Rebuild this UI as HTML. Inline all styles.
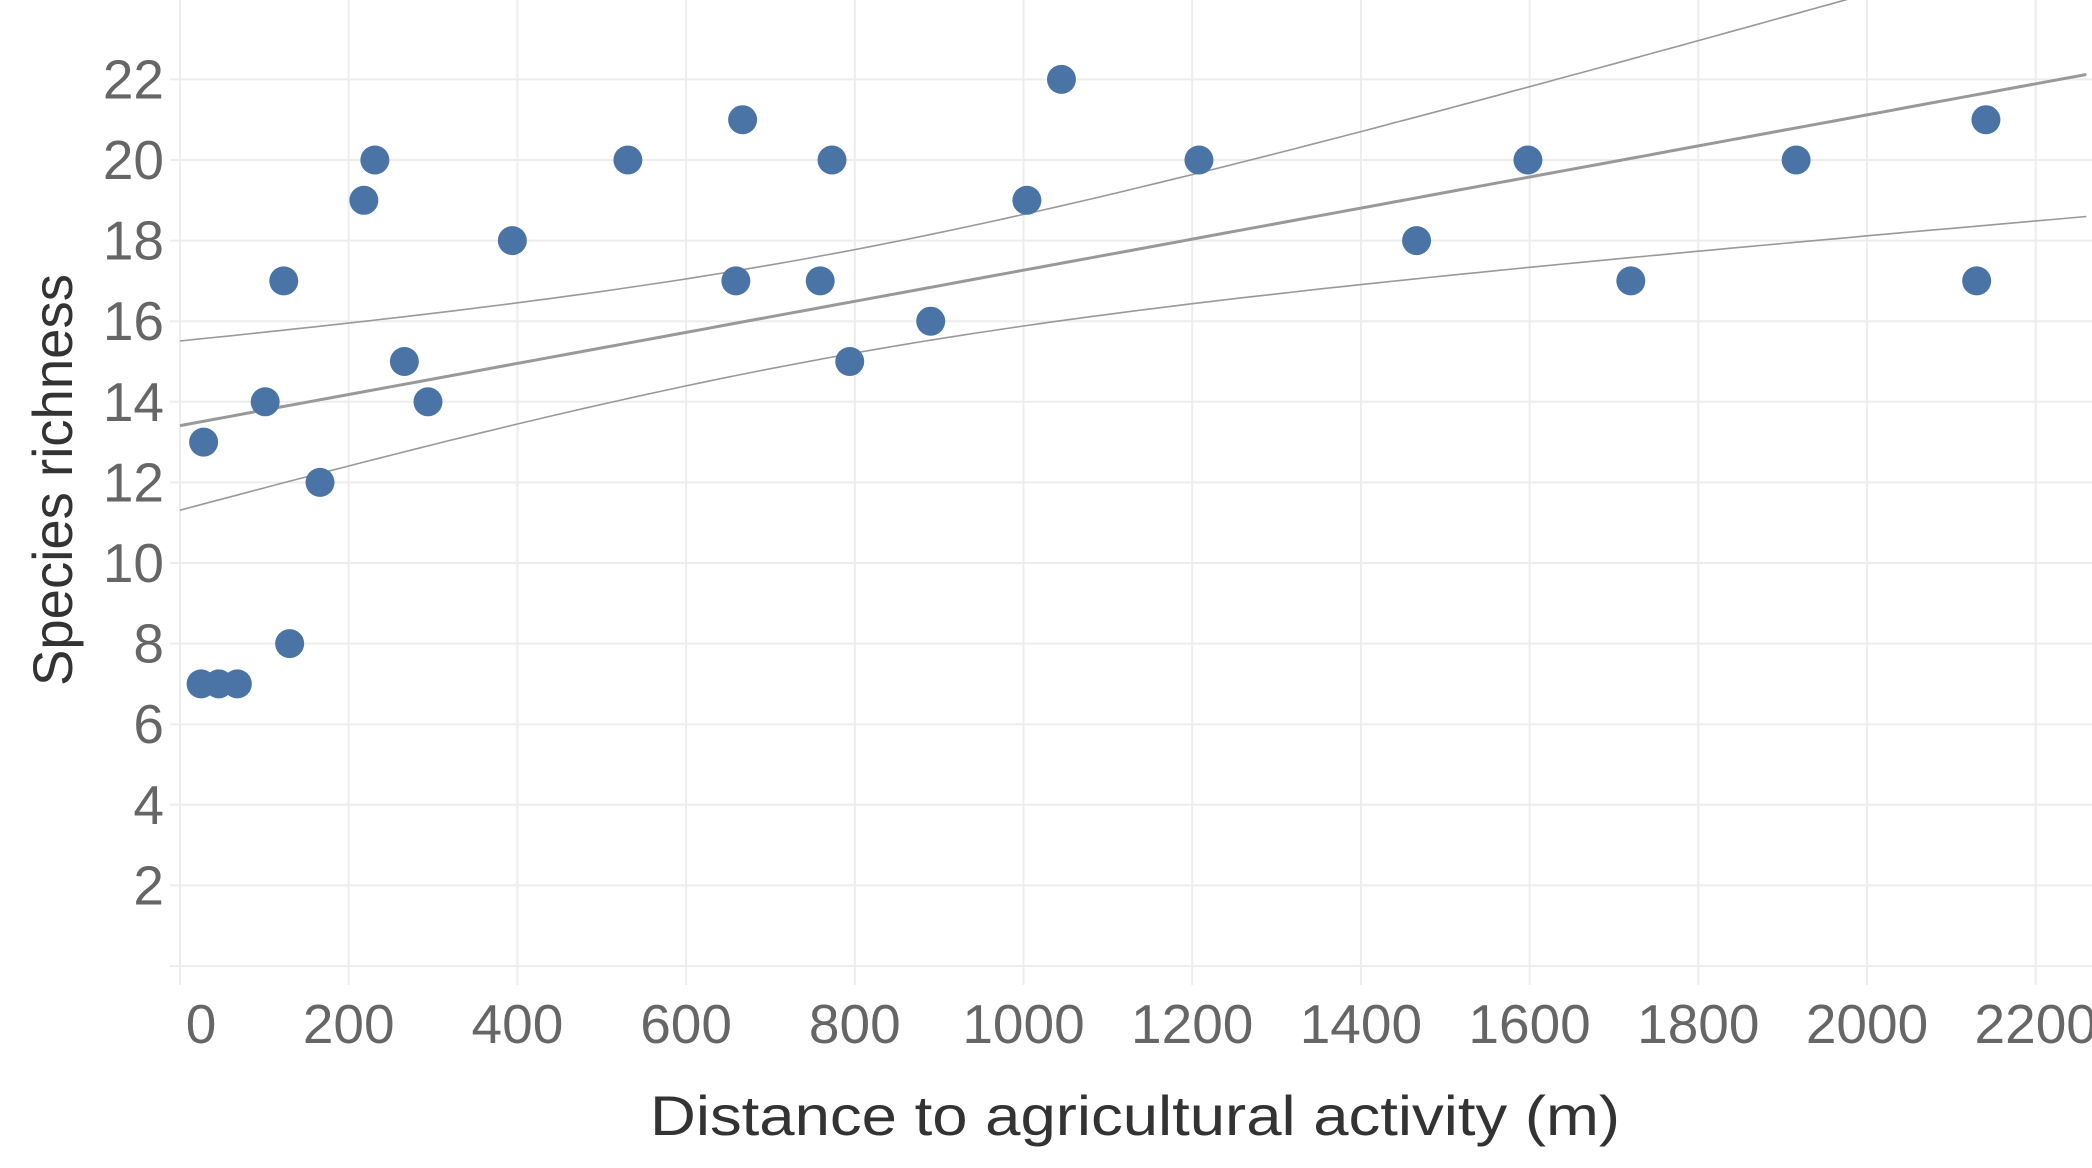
<!DOCTYPE html>
<html><head><meta charset="utf-8"><style>
html,body{margin:0;padding:0;background:#fff;}
svg{display:block;font-family:"Liberation Sans",sans-serif;}
</style></head><body>
<svg id="chart" width="2092" height="1168" viewBox="0 0 2092 1168" xmlns="http://www.w3.org/2000/svg">
<g id="grid"></g>
<g id="bands"></g>
<g id="pts"></g>
<g id="xt"></g>
<g id="yt"></g>
<text x="1135" y="1135" text-anchor="middle" font-size="56" fill="#333" textLength="970" lengthAdjust="spacingAndGlyphs">Distance to agricultural activity (m)</text>
<text transform="translate(72,480) rotate(-90)" text-anchor="middle" font-size="56" fill="#333" textLength="412" lengthAdjust="spacingAndGlyphs">Species richness</text>
</svg>
<script>
const distances=[25,46,68,28,101,123,130,166,218,231,266,294,394,531,659,667,759,773,794,890,1004,1045,1208,1466,1598,1720,1916,2130,2141];
const richness=[7,7,7,13,14,17,8,12,19,20,15,14,18,20,17,21,17,20,15,16,19,22,20,18,20,17,20,17,21];
const xTicks=[0,200,400,600,800,1000,1200,1400,1600,1800,2000,2200];
const yTicks=[2,4,6,8,10,12,14,16,18,20,22];
const trendIntercept=13.41, trendSlope=0.003855;
const ciBase=1.64, ciCurv=4.795e-6, ciCenter=760;

const NS="http://www.w3.org/2000/svg";
const X=v=>180+0.8435*v;
const Y=v=>966-40.3*v;
const XMAX=2267;
function mk(tag,attrs,parent){const e=document.createElementNS(NS,tag);for(const k in attrs)e.setAttribute(k,attrs[k]);parent.appendChild(e);return e;}
const grid=document.getElementById('grid');
xTicks.forEach(t=>{
  const l=mk('line',{x1:X(t),x2:X(t),y1:0,y2:985,stroke:'#ededed','stroke-width':2},grid);
  
  
});
[0].concat(yTicks).forEach(t=>{
  const l=mk('line',{x1:170,x2:2092,y1:Y(t),y2:Y(t),stroke:'#ededed','stroke-width':2},grid);
  
  
});
const xt=document.getElementById('xt');
xTicks.forEach(t=>{
  const tx=mk('text',{x:t===0?201:X(t),y:1043,'text-anchor':'middle','font-size':55,fill:'#666'},xt);
  tx.textContent=t;
  
  
});
const yt=document.getElementById('yt');
yTicks.forEach(t=>{
  const tx=mk('text',{x:164,y:Y(t)+19,'text-anchor':'end','font-size':55,fill:'#666'},yt);
  tx.textContent=t;
  
  
});
const bands=document.getElementById('bands');
function pathFor(f){let d='';for(let v=0;v<=XMAX;v+=20){d+=(v?'L':'M')+X(v).toFixed(1)+','+Y(f(v)).toFixed(1);}return d;}
const fit=v=>trendIntercept+trendSlope*v;
const hw=v=>Math.sqrt(ciBase+ciCurv*(v-ciCenter)*(v-ciCenter));
const up=mk('path',{d:pathFor(v=>fit(v)+hw(v)),fill:'none',stroke:'#999','stroke-width':1.6},bands);


const lo=mk('path',{d:pathFor(v=>fit(v)-hw(v)),fill:'none',stroke:'#999','stroke-width':1.6},bands);


const tr=mk('path',{d:pathFor(fit),fill:'none',stroke:'#999','stroke-width':3},bands);


const pts=document.getElementById('pts');
distances.forEach((d,i)=>{
  const c=mk('circle',{cx:X(d),cy:Y(richness[i]),r:14.5,fill:'#4a74a6'},pts);
  
  
});
</script>
</body></html>
